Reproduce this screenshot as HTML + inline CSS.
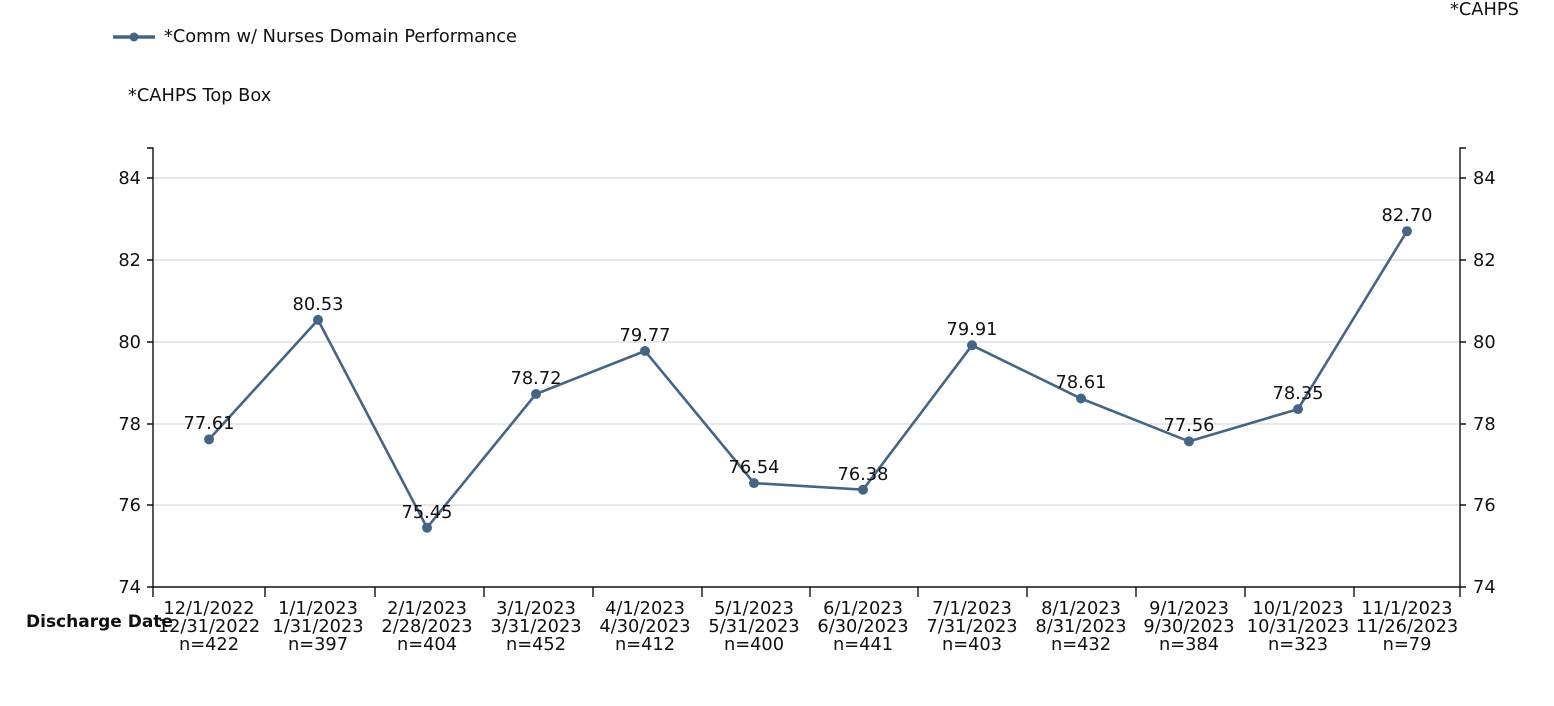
<!DOCTYPE html>
<html><head><style>
html,body{margin:0;padding:0;background:#fff;}
svg{display:block;font-family:"DejaVu Sans","Liberation Sans",sans-serif;}
</style></head><body>
<svg width="1554" height="706" xmlns="http://www.w3.org/2000/svg">
<g font-size="17.8" fill="#111">
<line x1="113" y1="37" x2="155" y2="37" stroke="#456585" stroke-width="3.5"/>
<circle cx="134" cy="37" r="4.5" fill="#456585"/>
<text x="164" y="42">*Comm w/ Nurses Domain Performance</text>
<text x="128" y="101">*CAHPS Top Box</text>
<text x="1450" y="15">*CAHPS</text>
</g>
<g stroke="#d9d9d9" stroke-width="1.3">
<line x1="153" y1="178" x2="1460" y2="178"/>
<line x1="153" y1="260" x2="1460" y2="260"/>
<line x1="153" y1="342" x2="1460" y2="342"/>
<line x1="153" y1="424" x2="1460" y2="424"/>
<line x1="153" y1="505" x2="1460" y2="505"/>
</g>
<g stroke="#111" stroke-width="1.4" fill="none">
<path d="M147 148H153V587H1460V148H1466"/>
<path d="M147 178H153M147 260H153M147 342H153M147 424H153M147 505H153M147 587H153"/>
<path d="M1460 178H1466M1460 260H1466M1460 342H1466M1460 424H1466M1460 505H1466M1460 587H1466"/>
<path d="M153 587V597M265 587V597M375 587V597M484 587V597M593 587V597M702 587V597M810 587V597M918 587V597M1027 587V597M1136 587V597M1245 587V597M1354 587V597M1460 587V597"/>
</g>
<g font-size="17.8" fill="#111">
<g text-anchor="end">
<text x="141" y="184">84</text><text x="141" y="266">82</text><text x="141" y="348">80</text>
<text x="141" y="430">78</text><text x="141" y="511">76</text><text x="141" y="593">74</text>
</g>
<text x="1473" y="184">84</text><text x="1473" y="266">82</text><text x="1473" y="348">80</text>
<text x="1473" y="430">78</text><text x="1473" y="511">76</text><text x="1473" y="593">74</text>
<text x="26" y="627" font-weight="bold" font-size="17">Discharge Date</text>
</g>
<polyline fill="none" stroke="#456585" stroke-width="2.6" points="209,439.4 318,319.9 427,527.7 536,394 645,351 754,483.1 863,489.7 972,345.3 1081,398.5 1189,441.4 1298,409.1 1407,231.2"/>
<g fill="#456585">
<circle cx="209" cy="439.4" r="5"/><circle cx="318" cy="319.9" r="5"/><circle cx="427" cy="527.7" r="5"/>
<circle cx="536" cy="394" r="5"/><circle cx="645" cy="351" r="5"/><circle cx="754" cy="483.1" r="5"/>
<circle cx="863" cy="489.7" r="5"/><circle cx="972" cy="345.3" r="5"/><circle cx="1081" cy="398.5" r="5"/>
<circle cx="1189" cy="441.4" r="5"/><circle cx="1298" cy="409.1" r="5"/><circle cx="1407" cy="231.2" r="5"/>
</g>
<g font-size="17.8" fill="#111" text-anchor="middle">
<text x="209" y="429">77.61</text><text x="318" y="310">80.53</text><text x="427" y="518">75.45</text>
<text x="536" y="384">78.72</text><text x="645" y="341">79.77</text><text x="754" y="473">76.54</text>
<text x="863" y="480">76.38</text><text x="972" y="335">79.91</text><text x="1081" y="388">78.61</text>
<text x="1189" y="431">77.56</text><text x="1298" y="399">78.35</text><text x="1407" y="221">82.70</text>
</g>
<g font-size="17.8" fill="#111" text-anchor="middle">
<text x="209" y="614">12/1/2022</text><text x="209" y="632">12/31/2022</text><text x="209" y="650">n=422</text>
<text x="318" y="614">1/1/2023</text><text x="318" y="632">1/31/2023</text><text x="318" y="650">n=397</text>
<text x="427" y="614">2/1/2023</text><text x="427" y="632">2/28/2023</text><text x="427" y="650">n=404</text>
<text x="536" y="614">3/1/2023</text><text x="536" y="632">3/31/2023</text><text x="536" y="650">n=452</text>
<text x="645" y="614">4/1/2023</text><text x="645" y="632">4/30/2023</text><text x="645" y="650">n=412</text>
<text x="754" y="614">5/1/2023</text><text x="754" y="632">5/31/2023</text><text x="754" y="650">n=400</text>
<text x="863" y="614">6/1/2023</text><text x="863" y="632">6/30/2023</text><text x="863" y="650">n=441</text>
<text x="972" y="614">7/1/2023</text><text x="972" y="632">7/31/2023</text><text x="972" y="650">n=403</text>
<text x="1081" y="614">8/1/2023</text><text x="1081" y="632">8/31/2023</text><text x="1081" y="650">n=432</text>
<text x="1189" y="614">9/1/2023</text><text x="1189" y="632">9/30/2023</text><text x="1189" y="650">n=384</text>
<text x="1298" y="614">10/1/2023</text><text x="1298" y="632">10/31/2023</text><text x="1298" y="650">n=323</text>
<text x="1407" y="614">11/1/2023</text><text x="1407" y="632">11/26/2023</text><text x="1407" y="650">n=79</text>
</g>
</svg>
</body></html>
